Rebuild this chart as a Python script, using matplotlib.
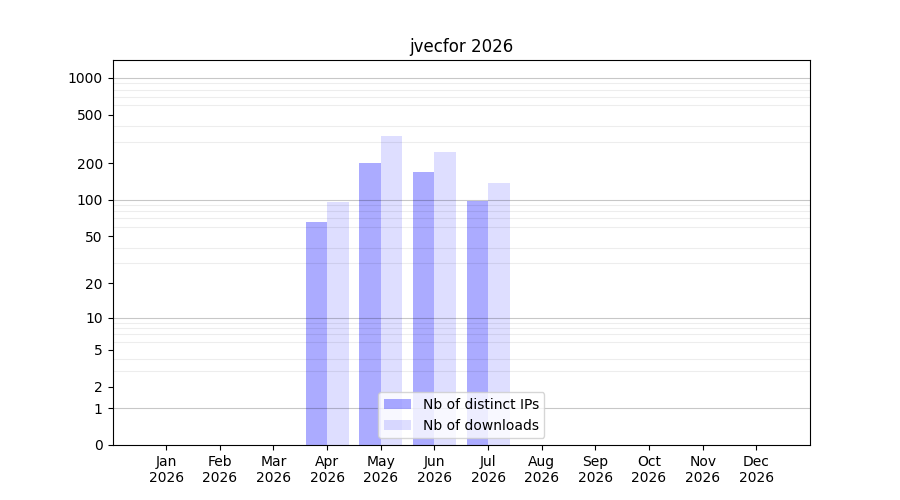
import numpy as np
import matplotlib.pyplot as plt
from matplotlib.ticker import FixedLocator, NullFormatter

months = ["Jan", "Feb", "Mar", "Apr", "May", "Jun", "Jul", "Aug", "Sep", "Oct", "Nov", "Dec"]
year = 2026
ips = [0, 0, 0, 66, 201, 170, 98, 0, 0, 0, 0, 0]
downloads = [0, 0, 0, 96, 336, 248, 138, 0, 0, 0, 0, 0]
yticks = [0, 1, 2, 5, 10, 20, 50, 100, 200, 500, 1000]

x = np.arange(1, 13)
fwd = lambda v: np.log10(1 + np.clip(v, 0, None))
inv = lambda v: 10**v - 1

fig, ax = plt.subplots(figsize=(9, 5), dpi=100)
ax.set_yscale("function", functions=(fwd, inv))
ax.bar(x, ips, width=-0.4, align="edge", color="blue", alpha=0.33, label="Nb of distinct IPs")
ax.bar(x, downloads, width=0.4, align="edge", color="blue", alpha=0.13, label="Nb of downloads")

ax.set_xlim(0, 13)
ax.set_ylim(0, 1400)
ax.set_xticks(x)
ax.set_xticklabels([f"{m}\n{year}" for m in months])
ax.yaxis.set_major_locator(FixedLocator(yticks))
ax.set_yticklabels([str(t) for t in yticks])
minor = [m * 10**d for d in range(3) for m in range(2, 10)]
ax.yaxis.set_minor_locator(FixedLocator(minor))
ax.yaxis.set_minor_formatter(NullFormatter())
ax.tick_params(axis="y", which="minor", length=0)
ax.grid(False)
ax.grid(True, axis="y", which="minor", color="k", alpha=0.07, linewidth=0.8)
for v in [1, 10, 100, 1000]:
    ax.axhline(v, color="k", alpha=0.22, linewidth=0.8, zorder=1.5)

ax.set_title(f"jvecfor {year}")
ax.legend(loc="lower center")
fig.savefig("out.png")
